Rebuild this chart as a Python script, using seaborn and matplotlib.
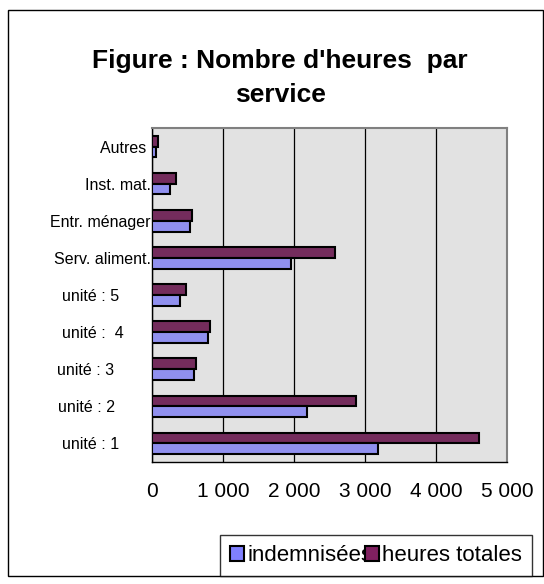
import pandas as pd
import matplotlib.pyplot as plt
import seaborn as sns
from matplotlib.patches import Patch, Rectangle
from matplotlib.ticker import FuncFormatter, FixedLocator

# services, du haut vers le bas
services = ['Autres', 'Inst. mat.', 'Entr. ménager', 'Serv. aliment.',
            'unité : 5', 'unité :  4', 'unité : 3', 'unité : 2', 'unité : 1']
# étiquettes telles qu'affichées (espaces de fin comme dans l'original)
etiquettes = ['Autres ', 'Inst. mat.', 'Entr. ménager', 'Serv. aliment.',
              'unité : 5       ', 'unité :  4      ', 'unité : 3        ',
              'unité : 2        ', 'unité : 1       ']
indemnisees = [55, 250, 530, 1960, 390, 785, 590, 2185, 3180]
heures_totales = [85, 335, 560, 2580, 475, 810, 615, 2880, 4600]
x_ticks = [0, 1000, 2000, 3000, 4000, 5000]

df = pd.DataFrame({
    'service': services * 2,
    'heures': heures_totales + indemnisees,
    'type': ['heures totales'] * len(services) + ['indemnisées'] * len(services),
})

sns.set_style('white')
plt.rcParams['font.family'] = ['Liberation Sans', 'DejaVu Sans']
plt.rcParams['text.color'] = 'black'
plt.rcParams['xtick.color'] = 'black'
plt.rcParams['ytick.color'] = 'black'

couleurs = {'indemnisées': '#8080FF', 'heures totales': '#802060'}

fig = plt.figure(figsize=(5.44, 5.84), dpi=100)
ax = fig.add_axes([0.2794, 0.2089, 0.6526, 0.5719])
ax.set_facecolor('#E2E2E2')

sns.barplot(data=df, y='service', x='heures', hue='type', order=services,
            hue_order=['heures totales', 'indemnisées'], palette=couleurs,
            width=0.58, edgecolor='black', linewidth=1.5, errorbar=None,
            orient='h', legend=False, ax=ax, zorder=3)

ax.set_xlim(0, 5000)
ax.set_ylim(len(services) - 0.5, -0.5)
ax.set_xticks(x_ticks)
ax.xaxis.set_major_formatter(FuncFormatter(lambda v, p: f'{int(v):,}'.replace(',', ' ')))
ax.set_yticks(range(len(services)))
ax.set_yticklabels(etiquettes)
ax.grid(axis='x', color='black', linewidth=0.9, zorder=1)
ax.set_axisbelow(True)
ax.set_xlabel('')
ax.set_ylabel('')

ax.tick_params(axis='x', direction='inout', length=7, width=1, labelsize=15, pad=11)
ax.tick_params(axis='y', which='major', length=0, labelsize=11.5, pad=1)
ax.yaxis.set_minor_locator(FixedLocator([i - 0.5 for i in range(len(services) + 1)]))
ax.tick_params(axis='y', which='minor', direction='inout', length=7, width=1)

for s in ['left', 'bottom']:
    ax.spines[s].set_color('black')
    ax.spines[s].set_linewidth(1)
for s in ['top', 'right']:
    ax.spines[s].set_color('#808080')
    ax.spines[s].set_linewidth(1.5)

fig.text(0.515, 1 - 68 / 584, "Figure : Nombre d'heures  par", ha='center', va='baseline',
         fontsize=19, fontweight='bold')
fig.text(0.515, 1 - 102 / 584, "service", ha='center', va='baseline',
         fontsize=19, fontweight='bold')

handles = [Patch(facecolor=couleurs['indemnisées'], edgecolor='black', linewidth=1.5),
           Patch(facecolor=couleurs['heures totales'], edgecolor='black', linewidth=1.5)]
leg = fig.legend(handles, ['indemnisées', 'heures totales'], loc='center',
                 bbox_to_anchor=(376 / 544, 1 - 555.5 / 584), ncol=2, fontsize=16,
                 frameon=True, fancybox=False, edgecolor='black', handlelength=0.65,
                 handleheight=0.65, handletextpad=0.15, columnspacing=-0.35,
                 borderpad=0.45, borderaxespad=0)
leg.get_frame().set_linewidth(1)

fig.patches.append(Rectangle((8 / 544, 1 - 576 / 584), 535 / 544, 566 / 584,
                             transform=fig.transFigure, fill=False,
                             edgecolor='black', linewidth=1))

plt.savefig('out.png', dpi=100)
